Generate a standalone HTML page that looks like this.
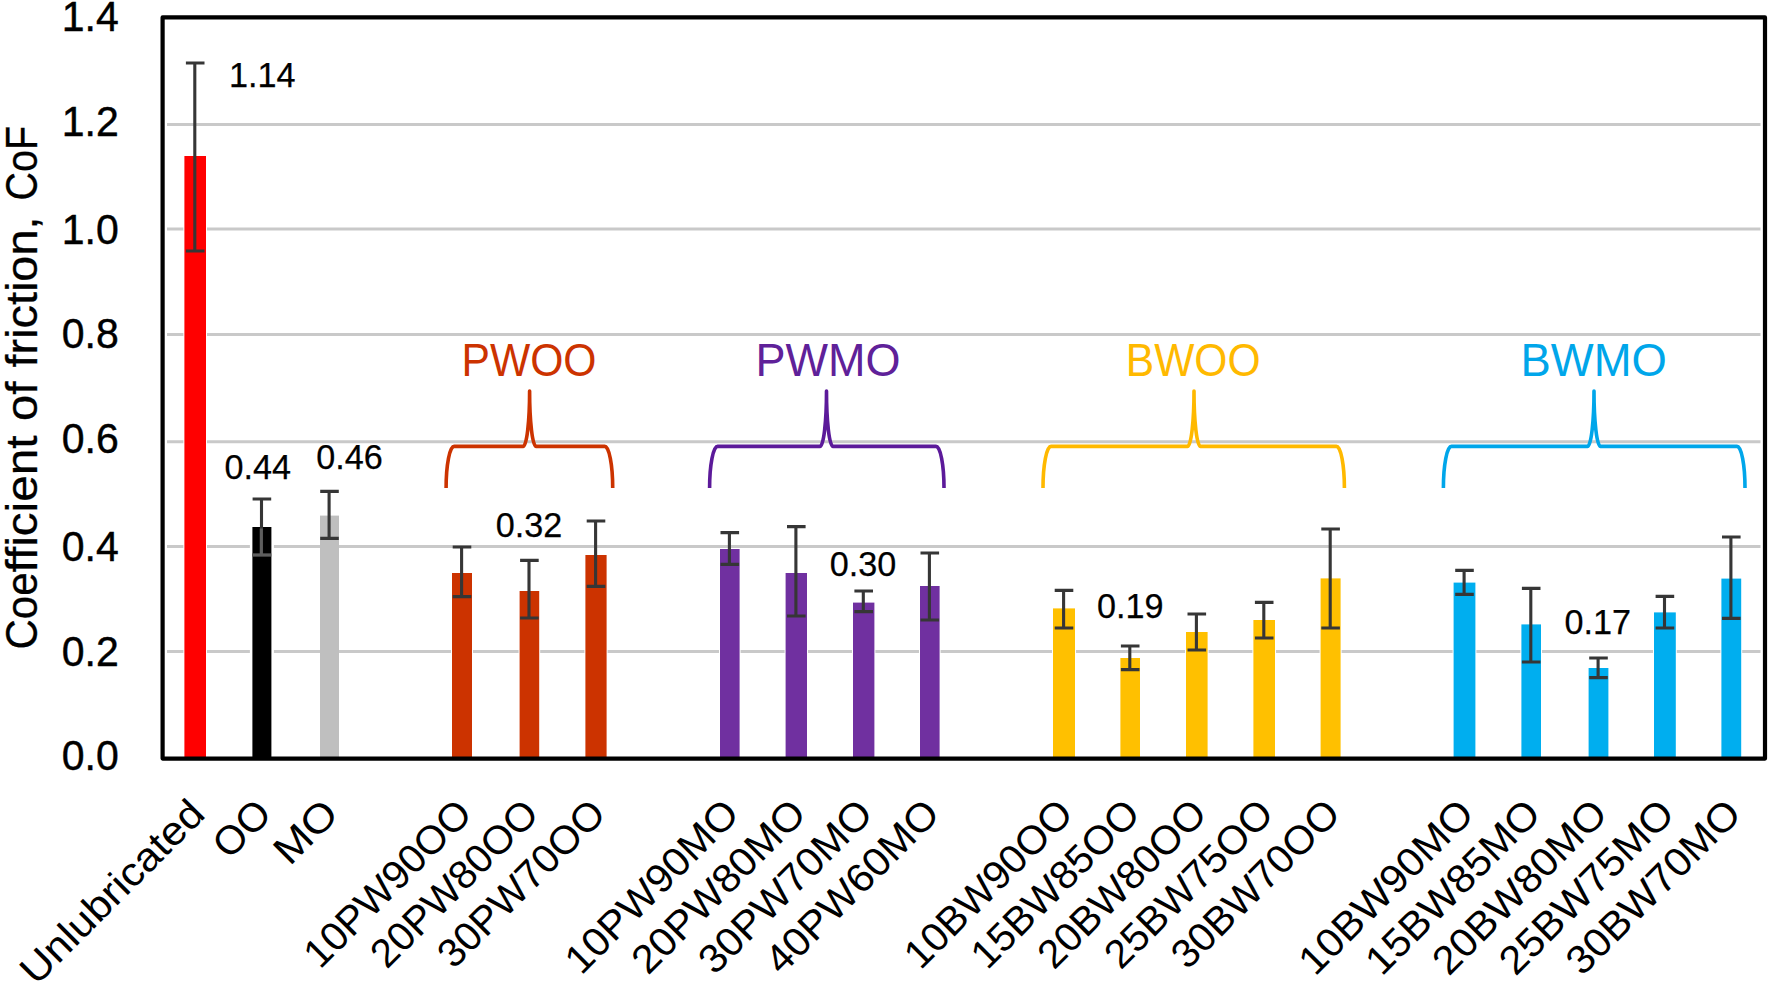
<!DOCTYPE html>
<html lang="en"><head><meta charset="utf-8"><title>Coefficient of friction</title>
<style>html,body{margin:0;padding:0;background:#fff;}body{width:1770px;height:985px;overflow:hidden;}svg{display:block;}text{font-family:"Liberation Sans", sans-serif;}</style>
</head><body>
<svg width="1770" height="985" viewBox="0 0 1770 985">
<rect x="0" y="0" width="1770" height="985" fill="#ffffff"/>
<g stroke="#c9c9c9" stroke-width="3" fill="none">
<line x1="167" y1="124.4" x2="1760.5" y2="124.4"/>
<line x1="167" y1="229.0" x2="1760.5" y2="229.0"/>
<line x1="167" y1="334.4" x2="1760.5" y2="334.4"/>
<line x1="167" y1="441.8" x2="1760.5" y2="441.8"/>
<line x1="167" y1="546.6" x2="1760.5" y2="546.6"/>
<line x1="167" y1="651.4" x2="1760.5" y2="651.4"/>
</g>
<g>
<rect x="184.4" y="156.0" width="21.6" height="603.5" fill="#ff0000" stroke="#ffffff" stroke-width="2.0" paint-order="stroke"/>
<rect x="252.4" y="527.0" width="19.0" height="232.5" fill="#000000" stroke="#ffffff" stroke-width="5.0" paint-order="stroke"/>
<rect x="320.0" y="515.6" width="19.0" height="243.9" fill="#bfbfbf" stroke="#ffffff" stroke-width="0.0" paint-order="stroke"/>
<rect x="452.0" y="573.0" width="20.0" height="186.5" fill="#cc3300" stroke="#ffffff" stroke-width="2.0" paint-order="stroke"/>
<rect x="519.6" y="591.0" width="19.6" height="168.5" fill="#cc3300" stroke="#ffffff" stroke-width="2.0" paint-order="stroke"/>
<rect x="585.4" y="555.0" width="21.2" height="204.5" fill="#cc3300" stroke="#ffffff" stroke-width="2.0" paint-order="stroke"/>
<rect x="720.0" y="549.0" width="19.6" height="210.5" fill="#7030a0" stroke="#ffffff" stroke-width="2.0" paint-order="stroke"/>
<rect x="785.6" y="573.0" width="21.4" height="186.5" fill="#7030a0" stroke="#ffffff" stroke-width="2.0" paint-order="stroke"/>
<rect x="853.0" y="602.6" width="21.4" height="156.9" fill="#7030a0" stroke="#ffffff" stroke-width="2.0" paint-order="stroke"/>
<rect x="920.0" y="586.0" width="19.6" height="173.5" fill="#7030a0" stroke="#ffffff" stroke-width="2.0" paint-order="stroke"/>
<rect x="1053.0" y="608.4" width="22.0" height="151.1" fill="#ffc000" stroke="#ffffff" stroke-width="2.0" paint-order="stroke"/>
<rect x="1120.4" y="658.0" width="19.6" height="101.5" fill="#ffc000" stroke="#ffffff" stroke-width="2.0" paint-order="stroke"/>
<rect x="1186.0" y="632.0" width="21.6" height="127.5" fill="#ffc000" stroke="#ffffff" stroke-width="2.0" paint-order="stroke"/>
<rect x="1253.4" y="620.0" width="21.6" height="139.5" fill="#ffc000" stroke="#ffffff" stroke-width="2.0" paint-order="stroke"/>
<rect x="1320.6" y="578.4" width="20.0" height="181.1" fill="#ffc000" stroke="#ffffff" stroke-width="2.0" paint-order="stroke"/>
<rect x="1453.6" y="582.6" width="21.8" height="176.9" fill="#00aeef" stroke="#ffffff" stroke-width="2.0" paint-order="stroke"/>
<rect x="1521.4" y="624.4" width="19.6" height="135.1" fill="#00aeef" stroke="#ffffff" stroke-width="2.0" paint-order="stroke"/>
<rect x="1588.6" y="668.0" width="19.8" height="91.5" fill="#00aeef" stroke="#ffffff" stroke-width="2.0" paint-order="stroke"/>
<rect x="1654.0" y="612.4" width="21.8" height="147.1" fill="#00aeef" stroke="#ffffff" stroke-width="2.0" paint-order="stroke"/>
<rect x="1721.4" y="578.6" width="19.8" height="180.9" fill="#00aeef" stroke="#ffffff" stroke-width="2.0" paint-order="stroke"/>
</g>
<g stroke="#363636" stroke-width="3.1" fill="none">
<path d="M185.9 63.0H204.5M185.9 251.0H204.5M194.8 63.0V251.0"/>
<path d="M252.6 499.0H271.2M252.6 555.0H271.2M261.5 499.0V555.0"/>
<path d="M320.2 491.4H338.8M320.2 538.4H338.8M329.1 491.4V538.4"/>
<path d="M452.7 547.0H471.3M452.7 596.6H471.3M461.6 547.0V596.6"/>
<path d="M520.1 560.4H538.7M520.1 618.0H538.7M529.0 560.4V618.0"/>
<path d="M586.7 521.0H605.3M586.7 586.4H605.3M595.6 521.0V586.4"/>
<path d="M720.5 532.6H739.1M720.5 564.4H739.1M729.4 532.6V564.4"/>
<path d="M787.0 526.6H805.6M787.0 616.0H805.6M795.9 526.6V616.0"/>
<path d="M854.4 591.0H873.0M854.4 611.6H873.0M863.3 591.0V611.6"/>
<path d="M920.5 553.0H939.1M920.5 620.0H939.1M929.4 553.0V620.0"/>
<path d="M1054.7 590.4H1073.3M1054.7 628.0H1073.3M1063.6 590.4V628.0"/>
<path d="M1120.9 646.0H1139.5M1120.9 669.6H1139.5M1129.8 646.0V669.6"/>
<path d="M1187.5 614.0H1206.1M1187.5 650.0H1206.1M1196.4 614.0V650.0"/>
<path d="M1254.9 602.4H1273.5M1254.9 638.0H1273.5M1263.8 602.4V638.0"/>
<path d="M1321.3 529.0H1339.9M1321.3 628.0H1339.9M1330.2 529.0V628.0"/>
<path d="M1455.2 570.4H1473.8M1455.2 594.4H1473.8M1464.1 570.4V594.4"/>
<path d="M1521.9 588.4H1540.5M1521.9 662.0H1540.5M1530.8 588.4V662.0"/>
<path d="M1589.2 658.0H1607.8M1589.2 677.6H1607.8M1598.1 658.0V677.6"/>
<path d="M1655.6 596.4H1674.2M1655.6 628.0H1674.2M1664.5 596.4V628.0"/>
<path d="M1722.0 537.0H1740.6M1722.0 618.4H1740.6M1730.9 537.0V618.4"/>
<path d="M252.9 555H270.9M261.3 528.6V555" stroke="#5e5e5e"/>
</g>
<rect x="162.6" y="17.4" width="1602.4" height="741.2" fill="none" stroke="#000000" stroke-width="4.2" stroke-linejoin="round"/>
<g font-size="43.2" fill="#000000" stroke="#000000" stroke-width="0.45" text-anchor="end">
<text x="118.7" y="31.2" textLength="57" lengthAdjust="spacingAndGlyphs">1.4</text>
<text x="118.7" y="136.4" textLength="57" lengthAdjust="spacingAndGlyphs">1.2</text>
<text x="118.7" y="243.6" textLength="57" lengthAdjust="spacingAndGlyphs">1.0</text>
<text x="118.7" y="348.4" textLength="57" lengthAdjust="spacingAndGlyphs">0.8</text>
<text x="118.7" y="452.9" textLength="57" lengthAdjust="spacingAndGlyphs">0.6</text>
<text x="118.7" y="560.9" textLength="57" lengthAdjust="spacingAndGlyphs">0.4</text>
<text x="118.7" y="665.6" textLength="57" lengthAdjust="spacingAndGlyphs">0.2</text>
<text x="118.7" y="770.4" textLength="57" lengthAdjust="spacingAndGlyphs">0.0</text>
</g>
<text transform="translate(37 0) rotate(-90)" font-size="44" fill="#000000" stroke="#000000" stroke-width="0.3"><tspan x="-649.5" textLength="77.0" lengthAdjust="spacingAndGlyphs">Coe</tspan><tspan x="-572.5" textLength="137.0" lengthAdjust="spacingAndGlyphs">fficient</tspan> <tspan x="-421.0" textLength="39.5" lengthAdjust="spacingAndGlyphs">of</tspan> <tspan x="-367.5" textLength="151.0" lengthAdjust="spacingAndGlyphs">friction,</tspan> <tspan x="-200.5" textLength="74.5" lengthAdjust="spacingAndGlyphs">CoF</tspan></text>
<g font-size="34.2" fill="#000000" stroke="#000000" stroke-width="0.25" text-anchor="middle">
<text x="262.3" y="86.6">1.14</text>
<text x="257.8" y="479.2">0.44</text>
<text x="349.5" y="468.6">0.46</text>
<text x="529.0" y="536.6">0.32</text>
<text x="863.0" y="576.0">0.30</text>
<text x="1130.2" y="617.6">0.19</text>
<text x="1597.8" y="634.0">0.17</text>
</g>
<text x="529.0" y="376.2" font-size="45.5" fill="#cc3300" text-anchor="middle" textLength="135.1" lengthAdjust="spacingAndGlyphs">PWOO</text>
<path d="M446.1 488A8 41.6 0 0 1 454.1 446.4H523.1A6.5 55.4 0 0 0 529.6 391A6.5 55.4 0 0 0 536.1 446.4H604.7A8 41.6 0 0 1 612.7 488" fill="none" stroke="#cc3300" stroke-width="3.6" stroke-linecap="butt" stroke-linejoin="round"/>
<text x="828.0" y="376.2" font-size="45.5" fill="#5f2199" text-anchor="middle" textLength="145.0" lengthAdjust="spacingAndGlyphs">PWMO</text>
<path d="M709.6 488A8 41.6 0 0 1 717.6 446.4H820.0A6.5 55.4 0 0 0 826.5 391A6.5 55.4 0 0 0 833.0 446.4H936.0A8 41.6 0 0 1 944.0 488" fill="none" stroke="#5c1a9a" stroke-width="3.6" stroke-linecap="butt" stroke-linejoin="round"/>
<text x="1193.2" y="376.2" font-size="45.5" fill="#ffb900" text-anchor="middle" textLength="134.8" lengthAdjust="spacingAndGlyphs">BWOO</text>
<path d="M1043.0 488A8 41.6 0 0 1 1051.0 446.4H1187.5A6.5 55.4 0 0 0 1194.0 391A6.5 55.4 0 0 0 1200.5 446.4H1336.4A8 41.6 0 0 1 1344.4 488" fill="none" stroke="#ffb900" stroke-width="3.6" stroke-linecap="butt" stroke-linejoin="round"/>
<text x="1593.7" y="376.2" font-size="45.5" fill="#00a6ea" text-anchor="middle" textLength="146.3" lengthAdjust="spacingAndGlyphs">BWMO</text>
<path d="M1443.4 488A8 41.6 0 0 1 1451.4 446.4H1587.5A6.5 55.4 0 0 0 1594.0 391A6.5 55.4 0 0 0 1600.5 446.4H1737.0A8 41.6 0 0 1 1745.0 488" fill="none" stroke="#00a6ea" stroke-width="3.6" stroke-linecap="butt" stroke-linejoin="round"/>
<g font-size="40" fill="#000000" text-anchor="end">
<text transform="translate(206.8 816) rotate(-45)" textLength="241.3" lengthAdjust="spacingAndGlyphs">Unlubricated</text>
<text transform="translate(273.6 816) rotate(-45)" textLength="63.1" lengthAdjust="spacingAndGlyphs">OO</text>
<text transform="translate(340.4 816) rotate(-45)" textLength="71.8" lengthAdjust="spacingAndGlyphs">MO</text>
<text transform="translate(474.0 816) rotate(-45)" textLength="217.7" lengthAdjust="spacingAndGlyphs">10PW90OO</text>
<text transform="translate(540.8 816) rotate(-45)" textLength="217.7" lengthAdjust="spacingAndGlyphs">20PW80OO</text>
<text transform="translate(607.6 816) rotate(-45)" textLength="217.7" lengthAdjust="spacingAndGlyphs">30PW70OO</text>
<text transform="translate(741.2 816) rotate(-45)" textLength="226.3" lengthAdjust="spacingAndGlyphs">10PW90MO</text>
<text transform="translate(808.0 816) rotate(-45)" textLength="226.3" lengthAdjust="spacingAndGlyphs">20PW80MO</text>
<text transform="translate(874.8 816) rotate(-45)" textLength="226.3" lengthAdjust="spacingAndGlyphs">30PW70MO</text>
<text transform="translate(941.6 816) rotate(-45)" textLength="226.3" lengthAdjust="spacingAndGlyphs">40PW60MO</text>
<text transform="translate(1075.2 816) rotate(-45)" textLength="218.9" lengthAdjust="spacingAndGlyphs">10BW90OO</text>
<text transform="translate(1142.0 816) rotate(-45)" textLength="218.9" lengthAdjust="spacingAndGlyphs">15BW85OO</text>
<text transform="translate(1208.8 816) rotate(-45)" textLength="218.9" lengthAdjust="spacingAndGlyphs">20BW80OO</text>
<text transform="translate(1275.6 816) rotate(-45)" textLength="218.9" lengthAdjust="spacingAndGlyphs">25BW75OO</text>
<text transform="translate(1342.4 816) rotate(-45)" textLength="218.9" lengthAdjust="spacingAndGlyphs">30BW70OO</text>
<text transform="translate(1476.0 816) rotate(-45)" textLength="227.6" lengthAdjust="spacingAndGlyphs">10BW90MO</text>
<text transform="translate(1542.8 816) rotate(-45)" textLength="227.6" lengthAdjust="spacingAndGlyphs">15BW85MO</text>
<text transform="translate(1609.6 816) rotate(-45)" textLength="227.6" lengthAdjust="spacingAndGlyphs">20BW80MO</text>
<text transform="translate(1676.4 816) rotate(-45)" textLength="227.6" lengthAdjust="spacingAndGlyphs">25BW75MO</text>
<text transform="translate(1743.2 816) rotate(-45)" textLength="227.6" lengthAdjust="spacingAndGlyphs">30BW70MO</text>
</g>
</svg>
</body></html>
